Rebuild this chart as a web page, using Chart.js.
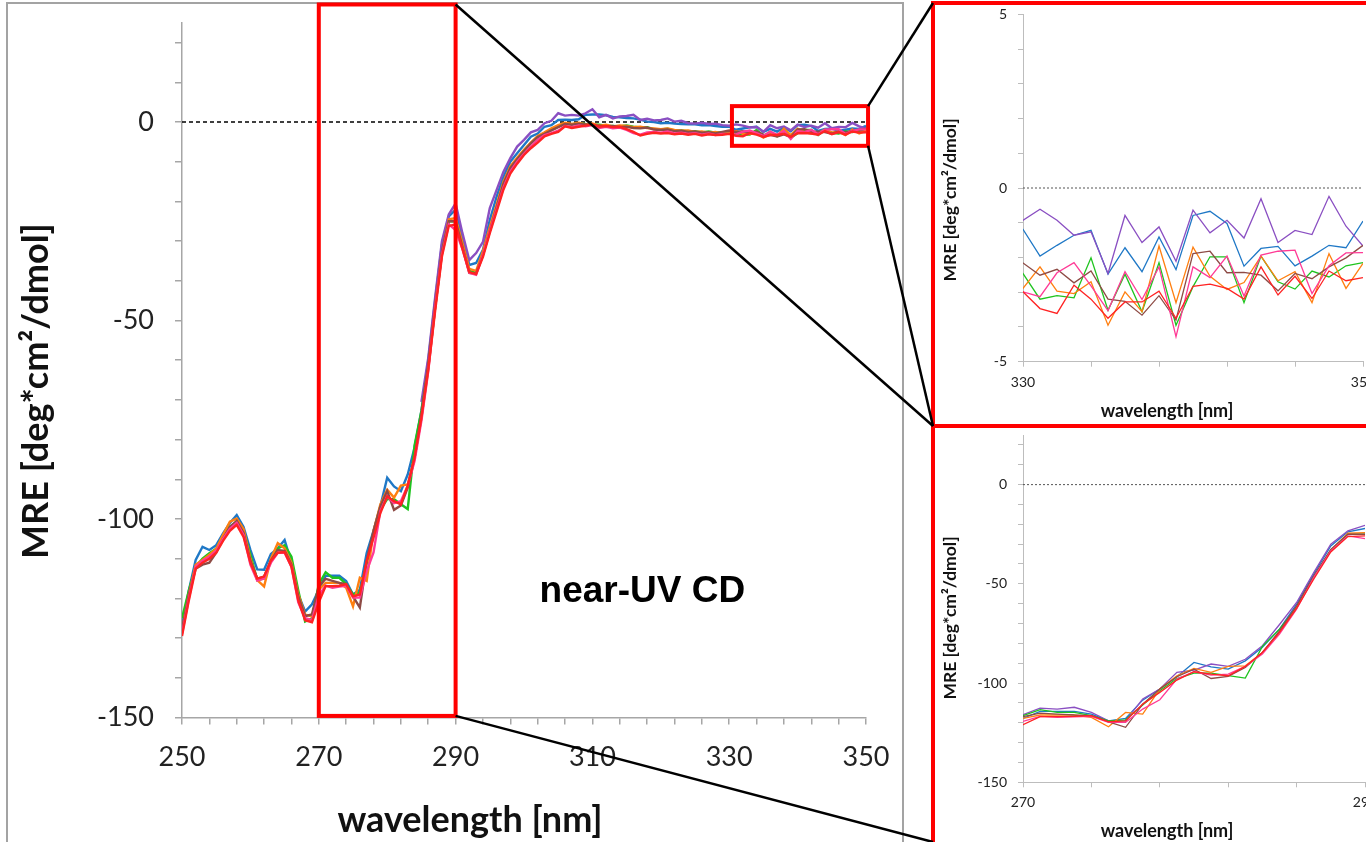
<!DOCTYPE html>
<html><head><meta charset="utf-8">
<script src="https://cdn.jsdelivr.net/npm/chart.js@4.4.0/dist/chart.umd.min.js"></script>
<style>
html,body{margin:0;padding:0;width:1366px;height:842px;overflow:hidden;background:#fff;}
#mainFrame{position:absolute;left:6px;top:2px;width:898px;height:900px;border:2px solid #a3a3a3;box-sizing:border-box;}
canvas{position:absolute;}
#mainCanvas{left:0;top:0;}
#inset1{left:935px;top:5px;}
#inset2{left:935px;top:428px;}
.insetFrame{position:absolute;left:931px;width:500px;border:4px solid #ff0000;box-sizing:border-box;}
#frame1{top:1px;height:427px;}
#frame2{top:424px;height:419px;border-bottom:0;}
#overlay{left:0;top:0;pointer-events:none;}
</style></head>
<body>
<div id="mainFrame"></div>
<canvas id="mainCanvas" width="905" height="842"></canvas>
<canvas id="inset1" width="460" height="419"></canvas>
<canvas id="inset2" width="460" height="414"></canvas>
<div class="insetFrame" id="frame1"></div>
<div class="insetFrame" id="frame2"></div>
<canvas id="overlay" width="1366" height="842"></canvas>
<script>
// ---------------- DATA ----------------
const wavelengths = [];
for (let w = 250; w <= 350; w++) wavelengths.push(w);

// MRE values, 250..350 nm, 1 nm steps
const blue = [
 -127,-118,-110.3,-107,-107.8,-106.6,-103.6,-101,-99,-102,-107.8,-112.7,-112.8,-108.8,-107.4,-105.3,-111,-119,-123.3,-121.5,
 -117.8,-114.3,-114.3,-114.3,-115.6,-119,-117.8,-108.6,-103,-96.8,-89.6,-91.8,-93,-88.8,-82,-72.8,-60.2,-45.1,-30.9,-23.8,-22.1,
 -29,-36,-35.5,-32.2,-24.7,-18.8,-13.8,-10,-7.9,-5.8,-3.7,-2.9,-1.2,-0.8,0.5,0.6,0.5,0.7,1.8,1.9,1.9,1.7,1.3,1.2,1.0,0.9,0.6,0.1,0.0,-0.3,-0.2,-0.4,-0.5,-0.6,-0.6,-0.8,-0.8,-1.0,-1.2,
 -1.19,-1.96,-1.65,-1.36,-1.22,-2.48,-1.72,-2.41,-1.41,-2.35,-0.79,-0.67,-1.02,-2.25,-1.74,-1.68,-2.24,-1.96,-1.65,-1.72,-0.95];
const purple = [
 null,null,null,null,null,null,null,null,null,null,null,null,null,null,null,null,null,null,null,null,
 -115.9,-112.6,-113.1,-112.2,-114.8,-119,-119,-108,-103,-94.6,-93.5,-90.4,-91.6,-88,-81.2,-70.5,-59.4,-44.3,-30,-23.3,-20.5,
 -28,-34.8,-33,-30.2,-21.7,-17.1,-12.5,-9.1,-6.2,-4.5,-2.6,-2.0,-0.3,0.3,2.2,1.6,1.8,1.6,2.2,3.2,1.2,1.8,0.9,1.4,1.5,1.8,0.5,0.8,0.4,0.5,0.9,0.1,0.3,-0.3,-0.4,-0.2,-0.5,-0.4,-0.8,
 -0.93,-0.61,-0.93,-1.36,-1.26,-2.46,-0.79,-1.57,-1.12,-2.11,-0.64,-1.29,-0.93,-1.44,-0.31,-1.57,-1.22,-1.34,-0.24,-1.10,-1.67];
const green = [
 -125,-118,-112,-110,-108.6,-107.5,-104.5,-102,-100.7,-103,-109,-115.4,-115,-110.5,-107.4,-106.6,-109.5,-118,-125.8,-125,
 -116.4,-113.4,-114.8,-114.8,-116.4,-119,-118.5,-111,-103.9,-97.7,-95,-95,-96.3,-97.5,-81.5,-72.8,-61.9,-46.8,-33,-25,-25,
 -31,-37.5,-38,-33,-27.2,-21.3,-15.5,-11.5,-9.3,-7.1,-5.3,-3.7,-2.9,-2.0,-1.2,-0.4,-0.6,-0.3,-0.5,-0.6,-0.7,-0.9,-1.0,-1.1,-0.9,-1.2,-1.4,-1.3,-1.8,-1.9,-1.7,-2.2,-2.1,-2.4,-2.3,-2.6,-2.4,-2.7,-2.6,
 -2.46,-3.20,-3.10,-3.16,-2.01,-3.52,-2.48,-3.56,-2.15,-3.95,-2.84,-1.98,-1.98,-3.30,-1.96,-2.70,-2.91,-2.39,-2.56,-2.24,-2.15];
const orange = [
 -128,-119,-111.5,-110.3,-109,-107.5,-104,-100.7,-99.9,-102.5,-110,-115.4,-117,-110,-106.1,-107.4,-111,-119,-124.1,-124.5,
 -117.8,-116.1,-116.1,-116.1,-117.3,-122,-114.8,-115.6,-103,-96.3,-92.6,-94.6,-91.6,-91.3,-84.6,-74.5,-61.9,-46.8,-33,-24.5,-24.2,
 -30.5,-37,-37.5,-32.5,-26.5,-20.8,-15,-11.2,-9,-7,-5.2,-3.5,-2.6,-1.6,-0.8,-0.2,-0.5,-0.2,-0.6,-0.4,-0.9,-0.7,-1.1,-0.9,-1.0,-1.3,-1.2,-1.5,-1.6,-1.8,-1.6,-2.0,-2.2,-2.1,-2.5,-2.4,-2.7,-2.5,-2.9,
 -2.89,-2.27,-2.97,-3.04,-2.70,-3.95,-2.99,-3.56,-1.67,-3.30,-1.70,-2.54,-2.92,-2.72,-1.96,-2.67,-2.41,-3.30,-1.89,-2.89,-2.17];
const brown = [
 -128,-119,-112.5,-111.5,-111,-108.5,-105,-102,-100.5,-103.5,-110.5,-115,-114.5,-110.5,-107.8,-108,-111.5,-119.5,-124.5,-124,
 -116.9,-115.1,-115.6,-116.1,-116.4,-119.5,-122.3,-110.6,-103,-96.8,-93,-97.7,-96.6,-92.1,-84.6,-73.7,-61.1,-46,-32.6,-25,-25,
 -31.5,-38,-38.2,-33.5,-27.5,-21.5,-15.5,-11.6,-9.4,-7.3,-5.4,-3.8,-3.0,-2.1,-1.3,-0.5,-0.7,-0.4,-0.6,-0.8,-0.9,-1.1,-1.0,-1.3,-1.2,-1.5,-1.6,-1.4,-1.9,-2.0,-1.9,-2.3,-2.2,-2.5,-2.4,-2.7,-2.6,-2.9,-2.5,
 -2.16,-2.51,-2.34,-2.73,-2.39,-3.20,-3.26,-3.66,-3.10,-3.80,-1.89,-1.82,-2.44,-2.43,-2.51,-2.96,-2.46,-2.61,-2.27,-2.01,-1.65];
const pink = [
 -129,-120,-112,-110.5,-109.5,-108,-105,-102.5,-101,-104,-111.5,-115.5,-115,-111,-108.5,-108.5,-112,-121,-125,-125.5,
 -119.3,-116.8,-117.3,-117,-116.8,-119.8,-119.8,-113.1,-108.4,-98,-94.3,-96,-95.5,-91.6,-85.4,-75.3,-62.8,-46.8,-33.4,-25.8,-27.2,
 -32,-38,-38.5,-33.5,-27.5,-22,-16.5,-12.5,-10,-8,-6.2,-4.5,-3.3,-2.8,-2.2,-1.0,-1.3,-0.9,-1.1,-0.8,-1.5,-1.2,-1.6,-1.4,-2.0,-2.8,-3.2,-2.6,-2.5,-2.7,-2.4,-2.9,-2.7,-3.0,-2.8,-3.2,-2.9,-3.3,-3.0,
 -2.99,-3.13,-2.44,-2.15,-2.82,-3.53,-2.41,-3.21,-2.27,-4.28,-2.27,-2.58,-1.96,-3.11,-1.93,-1.82,-1.79,-3.04,-2.24,-1.87,-1.86];
const red = [
 -129.5,-120.5,-112.5,-111,-110,-108.5,-105.5,-103,-101.5,-104.5,-111,-115,-114.5,-110.5,-108.5,-108.3,-112,-120.5,-125.5,-126,
 -121,-116.9,-116.9,-116.8,-116.4,-119.5,-119,-110.6,-104.7,-98.5,-94.3,-95.5,-96.3,-91.6,-84.6,-74.5,-62.4,-47.7,-33.9,-26.2,-25.8,
 -32,-37.8,-38.3,-34,-28,-22.5,-17,-13,-10.5,-8.3,-6.6,-5.2,-3.6,-3.0,-2.5,-1.1,-1.5,-1.2,-0.9,-0.6,-1.2,-1.0,-1.3,-1.2,-1.8,-2.5,-3.4,-3.0,-2.7,-2.9,-2.8,-3.1,-2.9,-3.2,-3.0,-3.4,-3.1,-3.3,-3.2,
 -2.99,-3.47,-3.61,-2.80,-3.20,-3.75,-3.28,-3.28,-2.97,-3.75,-2.83,-2.77,-2.89,-3.20,-2.27,-3.08,-2.54,-3.18,-2.39,-2.67,-2.58];

const purpleMainStart = 285;   // purple trace in the main panel begins at 285 nm

// axis ranges / ticks
const mainXRange = [250, 350], mainYRange = [-150, 25];
const mainXTicks = [250,254,258,262,266,270,274,278,282,286,290,294,298,302,306,310,314,318,322,326,330,334,338,342,346,350];
const mainXLabels = [250,270,290,310,330,350];
const mainYTicks = [-150,-140,-130,-120,-110,-100,-90,-80,-70,-60,-50,-40,-30,-20,-10,0,10,20];
const mainYLabels = [-150,-100,-50,0];

const in1XRange = [330, 350], in1YRange = [-5, 5];
const in1XTicks = [330,334,338,342,346,350];
const in1XLabels = [330,350];
const in1YTicks = [-5,-4,-3,-2,-1,0,1,2,3,4,5];
const in1YLabels = [-5,0,5];

const in2XRange = [270, 290], in2YRange = [-150, 25];
const in2XTicks = [270,274,278,282,286,290];
const in2XLabels = [270,290];
const in2YTicks = mainYTicks;
const in2YLabels = mainYLabels;

// zoom rectangles drawn in the main panel (data units)
const zoomBox1 = {xMin:270, xMax:290, yMin:-149.6, yMax:29.6};
const zoomBox2 = {xMin:330.4, xMax:350.3, yMin:-6, yMax:4};

// ---------------- STYLE ----------------
const seriesList = [
  {name:'red',    values:red,    color:'#ff2323'},
  {name:'pink',   values:pink,   color:'#ff3b96'},
  {name:'brown',  values:brown,  color:'#8e4b45'},
  {name:'orange', values:orange, color:'#ff7f10'},
  {name:'green',  values:green,  color:'#1fc41f'},
  {name:'purple', values:purple, color:'#8a4fc2', mainStart:purpleMainStart},
  {name:'blue',   values:blue,   color:'#1f78c6'}
];

function pts(values, from) {
  return wavelengths.map((w, i) => ({x: w, y: (from !== undefined && w < from) ? null : values[i]}));
}

const titlesPlugin = {
  id: 'titles',
  afterDraw(chart, args, o) {
    if (!o || !o.items) return;
    const ctx = chart.ctx;
    o.items.forEach(t => {
      ctx.save();
      ctx.translate(t.x, t.y);
      if (t.rotate) ctx.rotate(-Math.PI / 2);
      ctx.font = t.font; ctx.fillStyle = t.color || '#111';
      ctx.textAlign = 'center'; ctx.textBaseline = 'middle';
      ctx.fillText(t.text, 0, 0);
      ctx.restore();
    });
  }
};
const annotPlugin = {
  id: 'annot',
  afterDraw(chart, args, o) {
    if (!o || !o.boxes) return;
    const ctx = chart.ctx, xs = chart.scales.x, ys = chart.scales.y;
    ctx.save();
    ctx.strokeStyle = '#ff0000'; ctx.lineWidth = 4;
    o.boxes.forEach(b => {
      const x0 = xs.getPixelForValue(b.xMin), x1 = xs.getPixelForValue(b.xMax);
      const y0 = ys.getPixelForValue(b.yMax), y1 = ys.getPixelForValue(b.yMin);
      ctx.strokeRect(x0, y0, x1 - x0, y1 - y0);
    });
    if (o.label) {
      ctx.font = o.label.font; ctx.fillStyle = '#000';
      ctx.textAlign = 'center'; ctx.textBaseline = 'middle';
      ctx.fillText(o.label.text, xs.getPixelForValue(o.label.x), ys.getPixelForValue(o.label.y));
    }
    ctx.restore();
  }
};

function noPad(s) { s.paddingTop = 0; s.paddingBottom = 0; s.paddingLeft = 0; s.paddingRight = 0; }

function makeChart(canvasId, cfg) {
  const datasets = [];
  seriesList.forEach(s => {
    datasets.push({
      label: s.name,
      data: pts(s.values, cfg.main ? s.mainStart : undefined),
      borderColor: s.color, backgroundColor: s.color,
      borderWidth: cfg.lineWidth, pointRadius: 0, tension: 0, spanGaps: false
    });
  });
  datasets.push({
    label: 'zero', data: [{x: cfg.xRange[0], y: 0}, {x: cfg.xRange[1], y: 0}],
    borderColor: cfg.zeroColor, borderWidth: cfg.zeroWidth, borderDash: cfg.zeroDash, pointRadius: 0
  });
  const axisColor = cfg.axisColor;
  return new Chart(document.getElementById(canvasId), {
    type: 'line',
    data: {datasets},
    plugins: [titlesPlugin, annotPlugin],
    options: {
      responsive: false, animation: false, devicePixelRatio: 1,
      layout: {padding: cfg.padding},
      plugins: {legend: {display: false}, tooltip: {enabled: false},
        titles: {items: cfg.titles}, annot: cfg.annot || {}},
      scales: {
        x: {
          type: 'linear', min: cfg.xRange[0], max: cfg.xRange[1],
          afterBuildTicks: s => { s.ticks = cfg.xTicks.map(v => ({value: v})); },
          afterFit: s => { s.height = cfg.xAxisHeight; noPad(s); },
          ticks: {autoSkip: false, maxRotation: 0, padding: cfg.xTickPad, color: '#222',
            font: {family: 'Lato', size: cfg.tickFont},
            callback: v => cfg.xLabels.includes(v) ? String(v) : ''},
          grid: {drawOnChartArea: false, tickLength: cfg.tickLen, color: axisColor, lineWidth: cfg.axisWidth},
          border: {color: axisColor, width: cfg.axisWidth}
        },
        y: {
          type: 'linear', min: cfg.yRange[0], max: cfg.yRange[1],
          afterBuildTicks: s => { s.ticks = cfg.yTicks.map(v => ({value: v})); },
          afterFit: s => { s.width = cfg.yAxisWidth; noPad(s); },
          ticks: {autoSkip: false, padding: cfg.yTickPad, color: '#222',
            font: {family: 'Lato', size: cfg.tickFont},
            callback: v => cfg.yLabels.includes(v) ? String(v) : ''},
          grid: {drawOnChartArea: false, tickLength: cfg.tickLen, color: axisColor, lineWidth: cfg.axisWidth},
          border: {color: axisColor, width: cfg.axisWidth}
        }
      }
    }
  });
}

function init() {
  const yTitle = 'MRE [deg*cm\u00b2/dmol]', xTitle = 'wavelength [nm]';
  const mainChart = makeChart('mainCanvas', {
    main: true, xRange: mainXRange, yRange: mainYRange, xTicks: mainXTicks, xLabels: mainXLabels,
    yTicks: mainYTicks, yLabels: mainYLabels, lineWidth: 2.4,
    zeroColor: '#000', zeroWidth: 1.3, zeroDash: [4, 3],
    axisColor: '#a6a6a6', axisWidth: 1.5, tickLen: 7, tickFont: 27,
    padding: {left: 0, right: 39, top: 22.75, bottom: 0},
    xAxisHeight: 124.5, yAxisWidth: 182, xTickPad: 17, yTickPad: 21,
    titles: [
      {text: yTitle, x: 36, y: 391, rotate: true, font: 'bold 36px Lato'},
      {text: xTitle, x: 470, y: 820, font: 'bold 36px Lato'}
    ],
    annot: {boxes: [zoomBox1, zoomBox2], label: {text: 'near-UV CD', x: 317.3, y: -118.4, font: 'bold 37px "Liberation Sans", Arial, sans-serif'}}
  });
  makeChart('inset1', {
    xRange: in1XRange, yRange: in1YRange, xTicks: in1XTicks, xLabels: in1XLabels,
    yTicks: in1YTicks, yLabels: in1YLabels, lineWidth: 1.3,
    zeroColor: '#555', zeroWidth: 1, zeroDash: [2, 2],
    axisColor: '#bdbdbd', axisWidth: 1, tickLen: 5, tickFont: 14,
    padding: {left: 0, right: 32, top: 9.3, bottom: 0},
    xAxisHeight: 62.3, yAxisWidth: 88, xTickPad: 7, yTickPad: 11,
    titles: [
      {text: yTitle, x: 15, y: 195, rotate: true, font: 'bold 17.5px Lato'},
      {text: xTitle, x: 232, y: 406.5, font: 'bold 18px Lato'}
    ]
  });
  makeChart('inset2', {
    xRange: in2XRange, yRange: in2YRange, xTicks: in2XTicks, xLabels: in2XLabels,
    yTicks: in2YTicks, yLabels: in2YLabels, lineWidth: 1.3,
    zeroColor: '#555', zeroWidth: 1, zeroDash: [2, 2],
    axisColor: '#bdbdbd', axisWidth: 1, tickLen: 5, tickFont: 14,
    padding: {left: 0, right: 30, top: 7, bottom: 0},
    xAxisHeight: 59.7, yAxisWidth: 88, xTickPad: 7, yTickPad: 11,
    titles: [
      {text: yTitle, x: 15, y: 190, rotate: true, font: 'bold 17.5px Lato'},
      {text: xTitle, x: 232, y: 403.5, font: 'bold 18px Lato'}
    ]
  });

  // connector lines from the zoom boxes to the inset panels
  const xs = mainChart.scales.x, ys = mainChart.scales.y;
  const f1 = document.getElementById('frame1').getBoundingClientRect();
  const f2 = document.getElementById('frame2').getBoundingClientRect();
  const ctx = document.getElementById('overlay').getContext('2d');
  ctx.strokeStyle = '#000'; ctx.lineWidth = 2.5;
  const seg = (a, b, c, d) => { ctx.beginPath(); ctx.moveTo(a, b); ctx.lineTo(c, d); ctx.stroke(); };
  seg(xs.getPixelForValue(zoomBox1.xMax), ys.getPixelForValue(zoomBox1.yMax), f2.left + 2, f2.top + 2);
  seg(xs.getPixelForValue(zoomBox1.xMax), ys.getPixelForValue(zoomBox1.yMin), f2.left + 2, 842);
  seg(xs.getPixelForValue(zoomBox2.xMax), ys.getPixelForValue(zoomBox2.yMax), f1.left + 2, f1.top + 2);
  seg(xs.getPixelForValue(zoomBox2.xMax), ys.getPixelForValue(zoomBox2.yMin), f1.left + 2, f1.bottom - 2);
}

Promise.all([
  document.fonts.load('25px Lato'), document.fonts.load('bold 32px Lato'),
  document.fonts.load('bold 34px "Liberation Sans"')
]).then(init, init);
</script>
</body></html>
